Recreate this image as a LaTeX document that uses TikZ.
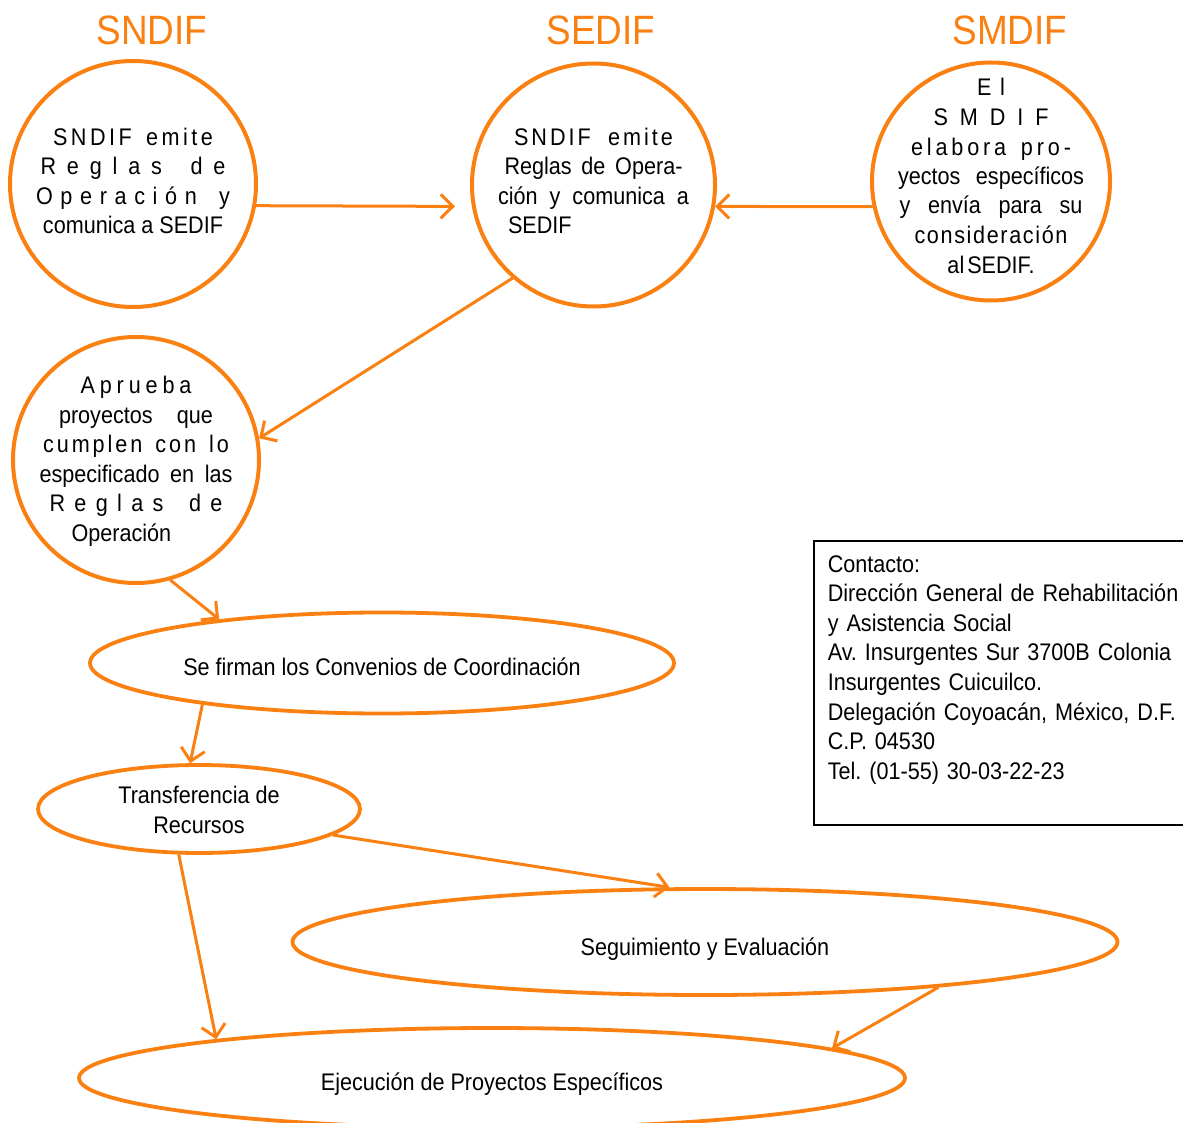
\documentclass[tikz,border=0pt]{standalone}
\usepackage{fontspec}
\setmainfont{Liberation Sans}[FakeStretch=0.9]
\usetikzlibrary{shapes.geometric,arrows.meta}
\definecolor{dorange}{RGB}{250,128,18}
\newcommand{\xg}{\hfill}
\newcommand{\xw}{\hfill\hspace{7pt}\hfill}
\newcommand{\tp}[1]{\rule{0pt}{#1pt}}
\newcommand{\bt}[1]{\rule[-#1pt]{0pt}{0pt}}
\frenchspacing
\tikzset{
  title/.style={text=dorange, font=\fontsize{41}{48}\selectfont, inner sep=0pt},
  circ/.style={circle, draw=dorange, line width=4pt, inner sep=-100pt, align=center,
    font=\fontsize{24}{29.5}\selectfont},
  ell/.style={ellipse, draw=dorange, line width=3.8pt, inner sep=0pt, align=center,
    font=\fontsize{24}{29.5}\selectfont},
  arr/.style={draw=dorange, line width=3pt, -{Straight Barb[length=12pt,width=24pt]}},
}
\begin{document}
\begin{tikzpicture}[x=1pt,y=-1pt]
\useasboundingbox (0,0) rectangle (1183,1123);
% titles
\node[title] (t1) at (152,30) {SNDIF};
\node[title] (t2) at (601,30) {SEDIF};
\node[title] (t3) at (1010,30) {SMDIF};
% circles
\node[circ, minimum size=246pt] (c1) at (133,184) {%
\tp{24}\makebox[160pt]{S\xg N\xg D\xg I\xg F\xw e\xg m\xg i\xg t\xg e}\\
\makebox[185pt]{R\xg e\xg g\xg l\xg a\xg s\xw d\xg e}\\
\makebox[194pt]{O\xg p\xg e\xg r\xg a\xg c\xg i\xg ó\xg n\xw y}\\
comunica a SEDIF\bt{12.5}};
\node[circ, minimum size=243pt] (c2) at (593.5,185) {%
\tp{24}\makebox[159pt]{S\xg N\xg D\xg I\xg F\xw\hspace{4pt}e\xg m\xg i\xg t\xg e}\\
\makebox[178pt][s]{Reglas de Opera-}\\
\makebox[191pt][s]{ción y comunica a}\\
\makebox[191pt][l]{\hspace{10pt}SEDIF}\bt{14.5}};
\node[circ, minimum size=238pt] (c3) at (991,181.5) {%
\tp{24}\makebox[28pt]{E\xg l}\\
\makebox[115pt]{S\xg M\xg D\xg I\xg F}\\
\makebox[160pt]{e\xg l\xg a\xg b\xg o\xg r\xg a\xw p\xg r\xg o\xg -}\\
\makebox[186pt][s]{yectos específicos}\\
\makebox[183pt][s]{y envía para su}\\
\makebox[153pt]{c\xg o\xg n\xg s\xg i\xg d\xg e\xg r\xg a\xg c\xg i\xg ó\xg n}\\
al\hspace{3pt}SEDIF.\bt{18}};
\node[circ, minimum size=246pt] (c4) at (136,460) {%
\tp{24}\makebox[111pt]{A\xg p\xg r\xg u\xg e\xg b\xg a}\\
\makebox[154pt][s]{proyectos que}\\
\makebox[186pt]{c\xg u\xg m\xg p\xg l\xg e\xg n\xw c\xg o\xg n\xw l\xg o}\\
\makebox[193pt][s]{especificado en las}\\
\makebox[173pt]{R\xg e\xg g\xg l\xg a\xg s\xw d\xg e}\\
\makebox[193pt][l]{\hspace{32pt}Operación}\bt{9.5}};
% ellipses
\node[ell, minimum width=584pt, minimum height=101pt] (e1) at (382,663)
  {\tp{30}\bt{5}Se firman los Convenios de Coordinación};
\node[ell, minimum width=322pt, minimum height=88pt] (e2) at (199,809)
  {\tp{24}Transferencia de\\Recursos\bt{5.5}};
\node[ell, minimum width=825pt, minimum height=106pt] (e3) at (705,942)
  {\tp{32}\bt{5}Seguimiento y Evaluación};
\node[ell, minimum width=826pt, minimum height=100pt] (e4) at (492,1078)
  {\tp{30}\bt{5}Ejecución de Proyectos Específicos};
% contact box
\node[draw=black, line width=1.5pt, anchor=north west, minimum width=380pt,
  minimum height=284pt, inner xsep=14pt, inner ysep=0pt, text width=360pt,
  align=left, font=\fontsize{24}{29.57}\selectfont] (contact) at (813,540)
  {\tp{18}Contacto:\\
   Dirección General de Rehabilitación\\
   y Asistencia Social\\
   Av. Insurgentes Sur 3700B Colonia\\
   Insurgentes Cuicuilco.\\
   Delegación Coyoacán, México, D.F.\\
   C.P. 04530\\
   Tel. (01-55) 30-03-22-23\bt{32}};
% connectors
\draw[arr, shorten >=17pt] (c1.-10.5) -- (c2.190.7);
\draw[arr] (c3.192) -- (c2.-10.5);
\draw[arr] (c2.229.5) -- (c4.10.4);
\draw[arr] (c4.-74) -- (e1.165.4);
\draw[arr] (e1.193.5) -- (e2.101.6);
\draw[arr] (e2.-11.8) -- (e3.123.5);
\draw[arr] (e2.246.5) -- (e4.172.05);
\draw[arr] (e3.-11.6) -- (e4.5.2);
\end{tikzpicture}
\end{document}
